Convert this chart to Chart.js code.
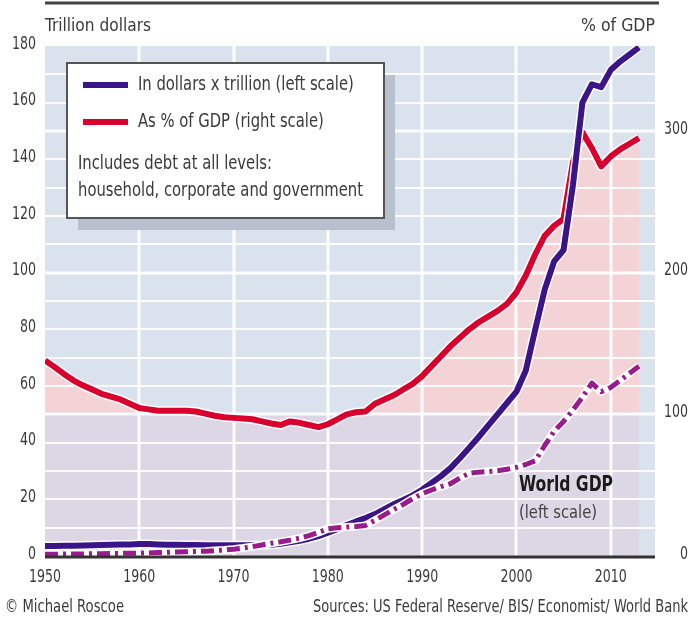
<!DOCTYPE html>
<html>
<head>
<meta charset="utf-8">
<title>Global debt</title>
<script src="https://cdn.jsdelivr.net/npm/chart.js@4.4.1/dist/chart.umd.min.js"></script>
<style>
  html, body { margin: 0; padding: 0; background: #fff; }
  canvas { display: block; }
</style>
</head>
<body>
<canvas id="debtChart" width="689" height="618"></canvas>
<script>
const years = [
    1950, 1951, 1952, 1953, 1954, 1955, 1956, 1957, 1958, 1959,
    1960, 1961, 1962, 1963, 1964, 1965, 1966, 1967, 1968, 1969,
    1970, 1971, 1972, 1973, 1974, 1975, 1976, 1977, 1978, 1979,
    1980, 1981, 1982, 1983, 1984, 1985, 1986, 1987, 1988, 1989,
    1990, 1991, 1992, 1993, 1994, 1995, 1996, 1997, 1998, 1999,
    2000, 2001, 2002, 2003, 2004, 2005, 2006, 2007, 2008, 2009,
    2010, 2011, 2012, 2013
];

// total debt, trillion dollars (left scale)
const debtTrillions = [
    3.5, 3.5, 3.6, 3.6, 3.7, 3.8, 3.9, 4.0, 4.1, 4.1,
    4.2, 4.2, 4.1, 4.0, 4.0, 3.9, 3.9, 3.8, 3.8, 3.8,
    3.8, 3.8, 3.8, 3.9, 4.0, 4.3, 4.8, 5.4, 6.1, 7.0,
    8.2, 9.5, 10.9, 12.2, 13.4, 14.8, 16.5, 18.3, 19.8, 21.4,
    23.4, 25.8, 28.2, 31.0, 34.5, 38.2, 42.0, 46.0, 50.0, 54.0,
    58.0, 65.5, 80.0, 94.0, 104.0, 108.0, 131.0, 160.0, 166.5, 165.5,
    171.5, 174.5, 177.0, 179.5
];

// total debt as % of GDP (right scale)
const debtPctGdp = [
    138, 133.5, 128.5, 124, 120.5, 117.5, 114.5, 112.5, 110.5, 107.5,
    104.5, 103.5, 102.5, 102.5, 102.5, 102.5, 102, 100.5, 99, 98,
    97.5, 97, 96.5, 95, 93.5, 92.5, 95, 94, 92.5, 91,
    93, 96.5, 100, 101.5, 102, 107.5, 110.5, 113.5, 117.5, 121.5,
    127, 134, 141, 148, 154, 160, 165, 169, 173, 178,
    186, 198, 213, 226, 233, 238, 278, 299, 288, 275,
    282, 287, 291, 295
];

// world GDP, trillion dollars (left scale)
const worldGdp = [
    0.6, 0.6, 0.7, 0.7, 0.7, 0.8, 0.8, 0.9, 0.9, 1.0,
    1.0, 1.1, 1.2, 1.3, 1.4, 1.5, 1.6, 1.7, 1.9, 2.1,
    2.4, 2.8, 3.3, 3.9, 4.5, 5.0, 5.6, 6.3, 7.2, 8.3,
    9.6, 10.0, 10.2, 10.4, 10.8, 12.6, 14.5, 16.4, 18.2, 20.2,
    22.0, 23.3, 24.5, 25.5, 27.5, 29.2, 29.6, 29.8, 30.1, 30.6,
    31.3, 32.3, 33.6, 39.0, 44.0, 47.5, 51.5, 56.0, 61.0, 58.0,
    59.5, 62.0, 64.5, 67.0
];

const yearTicks = [1950, 1960, 1970, 1980, 1990, 2000, 2010];
const leftTicks = [0, 20, 40, 60, 80, 100, 120, 140, 160, 180];
const rightTicks = [0, 100, 200, 300];

const FONT = '"DejaVu Sans Condensed", "DejaVu Sans", sans-serif';
const TEXT = '#3a3a3a';
const PURPLE = '#3b1488';
const RED = '#d8002c';
const MAGENTA = '#9a1b8e';
const PLOT_BG = '#dae2ee';
const PINK = '#f4d3d7';
const LAVENDER = '#dcd6e5';

const pts = vals => years.map((yr, i) => ({ x: yr, y: vals[i] }));

function lineSet(label, vals, axis, color, width, extra) {
    return Object.assign({
        label,
        data: pts(vals),
        yAxisID: axis,
        borderColor: color,
        borderWidth: width,
        pointRadius: 0,
        borderJoinStyle: 'round',
        fill: false
    }, extra || {});
}

// the lettering is a tall condensed face, so glyphs get squeezed sideways:
// either to a given width, or by a fixed factor
function squeezeFor(ctx, str, size, width, weight) {
    ctx.save();
    ctx.font = `${weight || 'normal'} ${size}px ${FONT}`;
    const k = width / ctx.measureText(str).width;
    ctx.restore();
    return k;
}

function text(ctx, str, x, y, o) {
    const size = o.size || 18;
    const k = o.width ? squeezeFor(ctx, str, size, o.width, o.weight) : (o.squeeze || 1);
    ctx.save();
    ctx.font = `${o.weight || 'normal'} ${size}px ${FONT}`;
    ctx.fillStyle = o.color || TEXT;
    ctx.textAlign = o.align || 'left';
    ctx.textBaseline = 'middle';
    ctx.translate(x, y);
    ctx.scale(k, 1);
    ctx.fillText(str, 0, 0);
    ctx.restore();
}

// background panel, 100% band and white grid sit between the fill and the lines
const backdrop = {
    id: 'backdrop',
    beforeDraw(chart) {
        const { ctx, chartArea: a } = chart;
        ctx.save();
        ctx.fillStyle = '#fff';
        ctx.fillRect(0, 0, chart.width, chart.height);
        ctx.fillStyle = PLOT_BG;
        ctx.fillRect(a.left, a.top, a.right - a.left, a.bottom - a.top);
        ctx.restore();
    },
    beforeDatasetsDraw(chart) {
        const { ctx, chartArea: a, scales } = chart;
        const x = scales.x, y = scales.y, y2 = scales.y2;
        ctx.save();
        const x0 = x.getPixelForValue(years[0]);
        const x1 = x.getPixelForValue(years[years.length - 1]);
        ctx.fillStyle = LAVENDER;
        ctx.fillRect(x0, y2.getPixelForValue(100), x1 - x0, y2.getPixelForValue(0) - y2.getPixelForValue(100));

        ctx.strokeStyle = 'rgba(255,255,255,0.9)';
        for (let v = 10; v < 180; v += 10) {
            const py = Math.round(y.getPixelForValue(v));
            ctx.lineWidth = v % 50 === 0 ? 3 : 2;
            ctx.beginPath();
            ctx.moveTo(a.left, py);
            ctx.lineTo(a.right, py);
            ctx.stroke();
        }
        ctx.lineWidth = 3;
        yearTicks.slice(1).forEach(yr => {
            const px = Math.round(x.getPixelForValue(yr));
            ctx.beginPath();
            ctx.moveTo(px, a.top);
            ctx.lineTo(px, a.bottom);
            ctx.stroke();
        });
        ctx.restore();
    },
    afterDatasetsDraw(chart) {
        const { ctx, chartArea: a } = chart;
        ctx.save();
        // base axis and the rule across the top
        ctx.strokeStyle = '#333';
        ctx.lineWidth = 3;
        ctx.beginPath();
        ctx.moveTo(a.left, a.bottom + 1);
        ctx.lineTo(a.right, a.bottom + 1);
        ctx.stroke();
        ctx.strokeStyle = '#444';
        ctx.beginPath();
        ctx.moveTo(a.left, 3);
        ctx.lineTo(a.right + 4, 3);
        ctx.stroke();

        // legend box with drop shadow
        const bx = 67, by = 63, bw = 317, bh = 155;
        ctx.fillStyle = '#b9c0cd';
        ctx.fillRect(bx + 11, by + 12, bw, bh);
        ctx.fillStyle = '#fff';
        ctx.fillRect(bx, by, bw, bh);
        ctx.strokeStyle = '#555';
        ctx.lineWidth = 2;
        ctx.strokeRect(bx, by, bw, bh);

        const k = squeezeFor(ctx, 'household, corporate and government', 19, 285);
        ctx.lineWidth = 6;
        [[PURPLE, 85, 'In dollars x trillion (left scale)'],
         [RED, 122, 'As % of GDP (right scale)']].forEach(([col, ly, str]) => {
            ctx.strokeStyle = col;
            ctx.beginPath();
            ctx.moveTo(83, ly);
            ctx.lineTo(128, ly);
            ctx.stroke();
            text(ctx, str, 138, ly, { size: 19, squeeze: k });
        });
        text(ctx, 'Includes debt at all levels:', 78, 164, { size: 19, squeeze: k });
        text(ctx, 'household, corporate and government', 78, 191, { size: 19, squeeze: k });

        text(ctx, 'World GDP', 519, 486, { size: 21, weight: 'bold', width: 94, color: '#1a1a1a' });
        text(ctx, '(left scale)', 519, 513, { size: 18, width: 78, color: '#444' });
        ctx.restore();
    },
    afterDraw(chart) {
        const { ctx, scales } = chart;
        const a = chart.chartArea;
        const k = squeezeFor(ctx, '1950', 18, 32);
        leftTicks.forEach(v => {
            text(ctx, String(v), 36, scales.y.getPixelForValue(v) - 2, { squeeze: k, align: 'right' });
        });
        rightTicks.forEach(v => {
            text(ctx, String(v), 688, scales.y2.getPixelForValue(v) - 2, { squeeze: k, align: 'right' });
        });
        yearTicks.forEach(v => {
            text(ctx, String(v), scales.x.getPixelForValue(v), a.bottom + 21, { squeeze: k, align: 'center' });
        });

        text(ctx, 'Trillion dollars', 45, 26, { width: 106 });
        text(ctx, '% of GDP', 655, 26, { width: 74, align: 'right' });
        text(ctx, '\u00A9 Michael Roscoe', 5, 607, { width: 119 });
        text(ctx, 'Sources: US Federal Reserve/ BIS/ Economist/ World Bank', 688, 607, { width: 375, align: 'right' });
    }
};

new Chart(document.getElementById('debtChart'), {
    type: 'line',
    data: {
        datasets: [
            lineSet('World GDP', worldGdp, 'y', MAGENTA, 5, { borderDash: [13, 5, 3, 5] }),
            lineSet('World GDP edge', worldGdp, 'y', '#fff', 8),
            lineSet('In dollars x trillion (left scale)', debtTrillions, 'y', PURPLE, 6),
            lineSet('Debt edge', debtTrillions, 'y', '#fff', 9),
            lineSet('As % of GDP (right scale)', debtPctGdp, 'y2', RED, 6,
                { fill: 'origin', backgroundColor: PINK }),
            lineSet('Ratio edge', debtPctGdp, 'y2', '#fff', 9)
        ]
    },
    options: {
        responsive: false,
        animation: false,
        devicePixelRatio: 1,
        layout: { padding: { top: 46, right: 2, bottom: 32, left: 0 } },
        plugins: {
            legend: { display: false },
            tooltip: { enabled: false },
            filler: { drawTime: 'beforeDatasetsDraw' }
        },
        scales: {
            x: {
                type: 'linear',
                min: 1950,
                max: 2014.7,
                grid: { display: false },
                border: { display: false },
                afterBuildTicks: s => { s.ticks = yearTicks.map(v => ({ value: v })); },
                afterFit: s => { s.height = 30; },
                ticks: { display: false }
            },
            y: {
                position: 'left',
                min: 0,
                max: 180,
                grid: { display: false },
                border: { display: false },
                afterBuildTicks: s => { s.ticks = leftTicks.map(v => ({ value: v })); },
                afterFit: s => { s.width = 45; },
                ticks: { display: false }
            },
            y2: {
                position: 'right',
                min: 0,
                max: 360,
                grid: { display: false },
                border: { display: false },
                afterBuildTicks: s => { s.ticks = rightTicks.map(v => ({ value: v })); },
                afterFit: s => { s.width = 32; },
                ticks: { display: false }
            }
        }
    },
    plugins: [backdrop]
});
</script>
</body>
</html>
